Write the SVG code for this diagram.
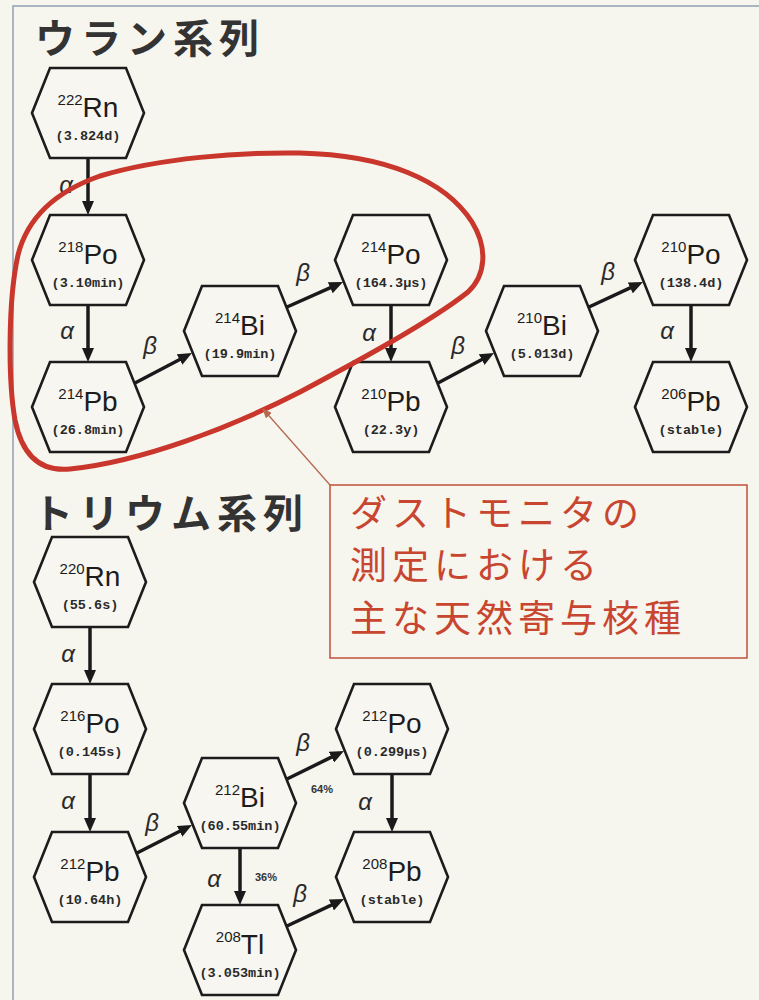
<svg xmlns="http://www.w3.org/2000/svg" xmlns:xlink="http://www.w3.org/1999/xlink" width="759" height="1000" viewBox="0 0 759 1000">
<defs>
<style>
.bg{fill:#f6f5ee}
.frame{stroke:#8fa3b0;stroke-width:1.5;fill:none}
.hex{fill:#f7f6f0;stroke:#1c1c1c;stroke-width:2.6;stroke-linejoin:miter}
.nuc{font-family:"Liberation Sans",Arial,sans-serif;fill:#1c1c1c;text-anchor:middle}
.mass{font-size:15px}
.el{font-size:28px}
.hl{font-family:"Liberation Mono","Courier New",monospace;font-size:13.5px;font-weight:bold;fill:#2a2a2a;text-anchor:middle}
.arr{stroke:#1a1a1a;stroke-width:3.5;fill:none;marker-end:url(#ah)}
.gk{font-family:"Liberation Sans",Arial,sans-serif;font-style:italic;font-size:24px;fill:#2a2a2a;text-anchor:middle}
.pct{font-family:"Liberation Sans",Arial,sans-serif;font-size:11px;font-weight:bold;fill:#333;text-anchor:middle}
.title{font-family:"Noto Sans CJK JP",sans-serif;font-size:40px;font-weight:bold;fill:#333;letter-spacing:6px}
.call{font-family:"Noto Sans CJK JP",sans-serif;font-size:37px;fill:#c8462f;letter-spacing:5px}
.callbox{fill:none;stroke:#c0503a;stroke-width:1.5}
.loop{fill:none;stroke:#c9362b;stroke-width:5}
.ptr{stroke:#b5694f;stroke-width:1.3;fill:none;marker-end:url(#ph)}
</style>
<marker id="ah" markerUnits="userSpaceOnUse" markerWidth="14" markerHeight="12" refX="4" refY="6" orient="auto"><path d="M0,0 L14,6 L0,12 Z" fill="#1a1a1a"/></marker>
<marker id="ph" markerUnits="userSpaceOnUse" markerWidth="10" markerHeight="8" refX="9" refY="4" orient="auto"><path d="M0,0 L10,4 L0,8 Z" fill="#b5694f"/></marker>
<polygon id="hx" points="-56,0 -38,-45 38,-45 56,0 38,45 -38,45"/>
</defs>

<rect class="bg" x="0" y="0" width="759" height="1000"/>
<path class="frame" d="M13,1000 L13,6 L759,6"/>

<text class="title" x="35" y="53">ウラン系列</text>
<text class="title" x="33" y="528">トリウム系列</text>

<g id="connectors">
  <line class="arr" x1="88" y1="158" x2="88" y2="205"/>
  <line class="arr" x1="88" y1="305" x2="88" y2="352"/>
  <line class="arr" x1="391" y1="305" x2="391" y2="352"/>
  <line class="arr" x1="691" y1="305" x2="691" y2="352"/>
  <line class="arr" x1="135" y1="383" x2="183.1" y2="357.7"/>
  <line class="arr" x1="287" y1="307" x2="333.9" y2="286.1"/>
  <line class="arr" x1="438" y1="383" x2="485.2" y2="357.7"/>
  <line class="arr" x1="589" y1="307" x2="633.9" y2="286.2"/>
  <line class="arr" x1="90" y1="627" x2="90" y2="674"/>
  <line class="arr" x1="90" y1="774" x2="90" y2="822"/>
  <line class="arr" x1="392" y1="774" x2="392" y2="822"/>
  <line class="arr" x1="240" y1="848" x2="240" y2="895"/>
  <line class="arr" x1="137" y1="853" x2="183.1" y2="829.5"/>
  <line class="arr" x1="287" y1="779" x2="335" y2="755.4"/>
  <line class="arr" x1="287" y1="926" x2="335" y2="903.3"/>
  <text class="gk" x="66" y="193">α</text>
  <text class="gk" x="67" y="339">α</text>
  <text class="gk" x="369" y="341">α</text>
  <text class="gk" x="667" y="339">α</text>
  <text class="gk" x="150" y="354">β</text>
  <text class="gk" x="303" y="281">β</text>
  <text class="gk" x="458" y="354">β</text>
  <text class="gk" x="608" y="280">β</text>
  <text class="gk" x="68" y="662">α</text>
  <text class="gk" x="68" y="809">α</text>
  <text class="gk" x="365" y="810">α</text>
  <text class="gk" x="214" y="887">α</text>
  <text class="gk" x="152" y="831">β</text>
  <text class="gk" x="303" y="751">β</text>
  <text class="gk" x="300" y="902">β</text>
  <text class="pct" x="322" y="793">64%</text>
  <text class="pct" x="266" y="881">36%</text>
</g>

<g id="n-rn222"><use xlink:href="#hx" class="hex" x="88" y="113"/><text class="nuc" x="88" y="117"><tspan class="mass" dy="-12">222</tspan><tspan class="el" dy="12">Rn</tspan></text><text class="hl" x="88" y="140">(3.824d)</text></g>
<g id="n-po218"><use xlink:href="#hx" class="hex" x="88" y="260"/><text class="nuc" x="88" y="264"><tspan class="mass" dy="-12">218</tspan><tspan class="el" dy="12">Po</tspan></text><text class="hl" x="88" y="287">(3.10min)</text></g>
<g id="n-pb214"><use xlink:href="#hx" class="hex" x="88" y="407"/><text class="nuc" x="88" y="411"><tspan class="mass" dy="-12">214</tspan><tspan class="el" dy="12">Pb</tspan></text><text class="hl" x="88" y="434">(26.8min)</text></g>
<g id="n-bi214"><use xlink:href="#hx" class="hex" x="240" y="331"/><text class="nuc" x="240" y="335"><tspan class="mass" dy="-12">214</tspan><tspan class="el" dy="12">Bi</tspan></text><text class="hl" x="240" y="358">(19.9min)</text></g>
<g id="n-po214"><use xlink:href="#hx" class="hex" x="391" y="260"/><text class="nuc" x="391" y="264"><tspan class="mass" dy="-12">214</tspan><tspan class="el" dy="12">Po</tspan></text><text class="hl" x="391" y="287">(164.3μs)</text></g>
<g id="n-pb210"><use xlink:href="#hx" class="hex" x="391" y="407"/><text class="nuc" x="391" y="411"><tspan class="mass" dy="-12">210</tspan><tspan class="el" dy="12">Pb</tspan></text><text class="hl" x="391" y="434">(22.3y)</text></g>
<g id="n-bi210"><use xlink:href="#hx" class="hex" x="542" y="331"/><text class="nuc" x="542" y="335"><tspan class="mass" dy="-12">210</tspan><tspan class="el" dy="12">Bi</tspan></text><text class="hl" x="542" y="358">(5.013d)</text></g>
<g id="n-po210"><use xlink:href="#hx" class="hex" x="691" y="260"/><text class="nuc" x="691" y="264"><tspan class="mass" dy="-12">210</tspan><tspan class="el" dy="12">Po</tspan></text><text class="hl" x="691" y="287">(138.4d)</text></g>
<g id="n-pb206"><use xlink:href="#hx" class="hex" x="691" y="407"/><text class="nuc" x="691" y="411"><tspan class="mass" dy="-12">206</tspan><tspan class="el" dy="12">Pb</tspan></text><text class="hl" x="691" y="434">(stable)</text></g>

<g id="n-rn220"><use xlink:href="#hx" class="hex" x="90" y="582"/><text class="nuc" x="90" y="586"><tspan class="mass" dy="-12">220</tspan><tspan class="el" dy="12">Rn</tspan></text><text class="hl" x="90" y="609">(55.6s)</text></g>
<g id="n-po216"><use xlink:href="#hx" class="hex" x="90" y="729"/><text class="nuc" x="90" y="733"><tspan class="mass" dy="-12">216</tspan><tspan class="el" dy="12">Po</tspan></text><text class="hl" x="90" y="756">(0.145s)</text></g>
<g id="n-pb212"><use xlink:href="#hx" class="hex" x="90" y="877"/><text class="nuc" x="90" y="881"><tspan class="mass" dy="-12">212</tspan><tspan class="el" dy="12">Pb</tspan></text><text class="hl" x="90" y="904">(10.64h)</text></g>
<g id="n-bi212"><use xlink:href="#hx" class="hex" x="240" y="803"/><text class="nuc" x="240" y="807"><tspan class="mass" dy="-12">212</tspan><tspan class="el" dy="12">Bi</tspan></text><text class="hl" x="240" y="830">(60.55min)</text></g>
<g id="n-po212"><use xlink:href="#hx" class="hex" x="392" y="729"/><text class="nuc" x="392" y="733"><tspan class="mass" dy="-12">212</tspan><tspan class="el" dy="12">Po</tspan></text><text class="hl" x="392" y="756">(0.299μs)</text></g>
<g id="n-pb208"><use xlink:href="#hx" class="hex" x="392" y="877"/><text class="nuc" x="392" y="881"><tspan class="mass" dy="-12">208</tspan><tspan class="el" dy="12">Pb</tspan></text><text class="hl" x="392" y="904">(stable)</text></g>
<g id="n-tl208"><use xlink:href="#hx" class="hex" x="240" y="950"/><text class="nuc" x="240" y="954"><tspan class="mass" dy="-12">208</tspan><tspan class="el" dy="12">Tl</tspan></text><text class="hl" x="240" y="977">(3.053min)</text></g>

<g id="highlight">
  <path class="loop" d="M300,153 C385,155 445,180 472,222 C488,248 486,275 468,292 C430,322 360,360 300,392 C230,428 140,462 70,469 C40,472 22,455 15,420 C8,380 8,300 18,255 C28,215 60,190 100,176 C160,158 240,152 300,153 Z"/>
</g>

<g id="callout">
  <line class="ptr" x1="330" y1="485" x2="263" y2="409"/>
  <rect class="callbox" x="330" y="485" width="417" height="173"/>
  <text class="call" x="350" y="527">ダストモニタの</text>
  <text class="call" x="350" y="579">測定における</text>
  <text class="call" x="350" y="632">主な天然寄与核種</text>
</g>
</svg>
